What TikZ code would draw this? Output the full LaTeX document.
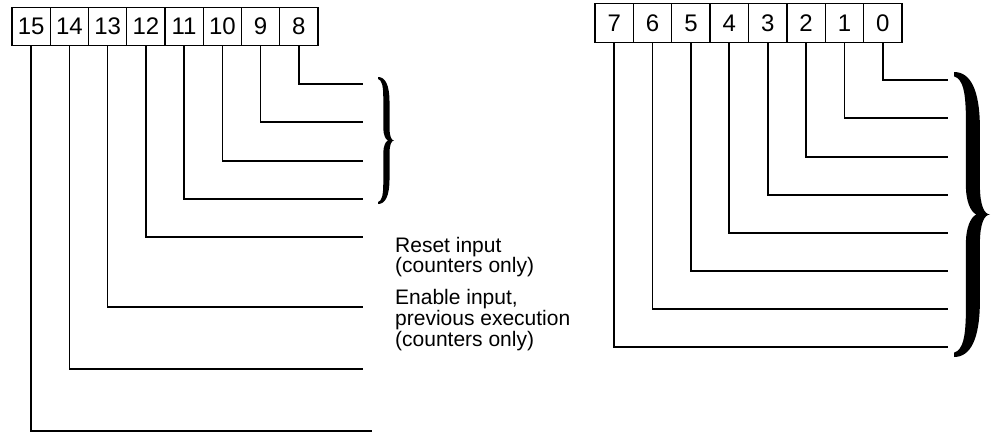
\documentclass[tikz,border=0pt]{standalone}
\usepackage{fontspec}
\setmainfont{Liberation Sans}
\begin{document}
\begin{tikzpicture}[x=1pt,y=-1pt,
  bitbox/.style={draw,line width=1.2pt,minimum width=38.3pt,minimum height=38.5pt,inner sep=0pt,
    font=\fontsize{24}{24}\selectfont},
  wire/.style={line width=1.7pt},
  label/.style={anchor=north west,align=left,inner sep=0pt,font=\fontsize{21}{18}\selectfont},
  bracefill/.pic={
    \fill (0,0) .. controls (0.45,0.0) and (0.72,0.06) .. (0.72,0.2)
      -- (0.72,0.40) .. controls (0.72,0.47) and (0.85,0.5) .. (1,0.5)
      .. controls (0.85,0.5) and (0.72,0.53) .. (0.72,0.6)
      -- (0.72,0.8) .. controls (0.72,0.94) and (0.45,1.0) .. (0,1)
      -- (0,0.985) .. controls (0.25,0.975) and (0.33,0.93) .. (0.33,0.83)
      -- (0.33,0.6) .. controls (0.33,0.55) and (0.45,0.51) .. (0.62,0.5)
      .. controls (0.45,0.49) and (0.33,0.45) .. (0.33,0.4)
      -- (0.33,0.17) .. controls (0.33,0.07) and (0.25,0.025) .. (0,0.015) -- cycle;
  }]
\useasboundingbox (0,0) rectangle (996,434);
% left register, bits 15..8
\foreach \b [count=\k from 0] in {15,14,13,12,11,10,9,8}
  \node[bitbox] (b\b) at ({12+38.25*(\k+0.5)},26.5) {\b};
% right register, bits 7..0
\foreach \b [count=\k from 0] in {7,6,5,4,3,2,1,0}
  \node[bitbox] (b\b) at ({595+38.375*(\k+0.5)},23) {\b};
% left wires
\foreach \b/\y/\e in {8/84/363,9/122/363,10/161/363,11/199/363,12/237/363,13/307/363,14/369/363,15/431/372}{
  \coordinate (e\b) at (\e,\y);
  \draw[wire] (b\b.south) |- (e\b);
}
% right wires
\foreach \b/\y in {0/80,1/118,2/157,3/195,4/233,5/271,6/309,7/347}{
  \coordinate (e\b) at (948,\y);
  \draw[wire] (b\b.south) |- (e\b);
}
% braces
\begin{scope}[shift={(378,77)}]
  \pic[xscale=16,yscale=127] (lbrace) {bracefill};
\end{scope}
\begin{scope}[shift={(954,72)}]
  \pic[xscale=36,yscale=285] (rbrace) {bracefill};
\end{scope}
% labels
\node[label] (reset) at (395,237) {Reset input\\(counters only)};
\node[label] (enable) at (395,289.5) {Enable input,\\previous execution\\(counters only)};
\end{tikzpicture}
\end{document}
